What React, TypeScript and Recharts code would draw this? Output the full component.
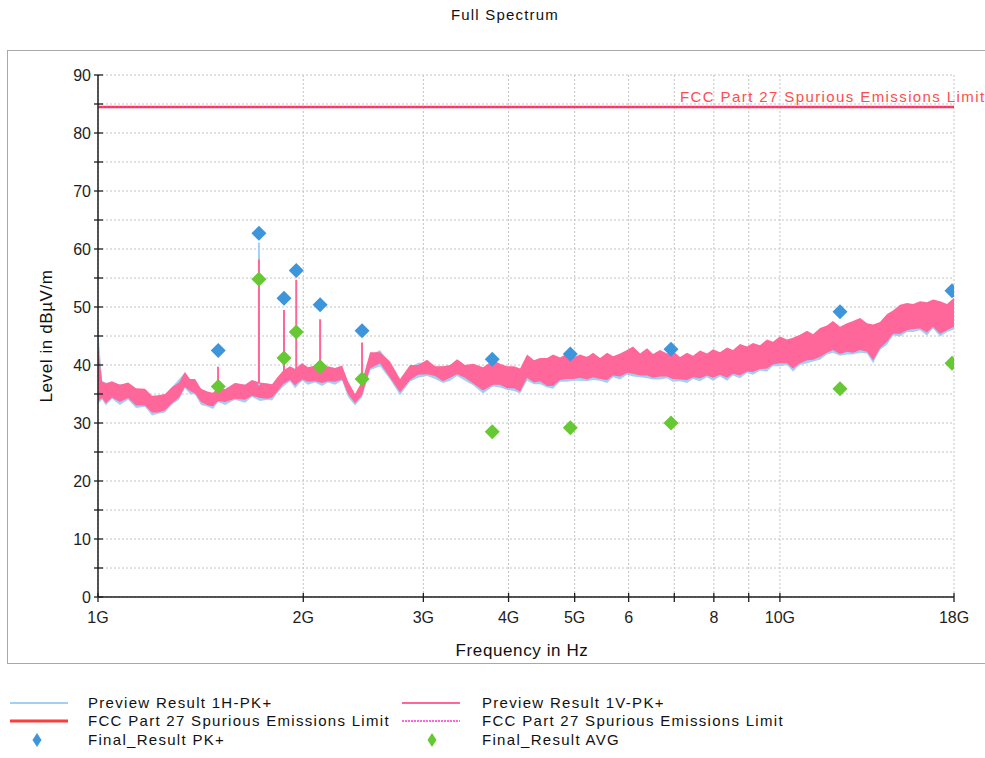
import React from "react";
import { ComposedChart, Area, Line, Scatter, XAxis, YAxis, CartesianGrid } from "recharts";

// sweep frequencies, GHz (log spaced)
const FREQ_GHZ = [
  1.0, 1.014, 1.027, 1.048, 1.077, 1.107, 1.137, 1.172, 1.2, 1.225,
  1.254, 1.284, 1.315, 1.341, 1.364, 1.388, 1.416, 1.45, 1.475, 1.5,
  1.536, 1.588, 1.643, 1.682, 1.728, 1.776, 1.8, 1.83, 1.868, 1.912,
  1.945, 1.992, 2.032, 2.081, 2.131, 2.174, 2.226, 2.28, 2.326, 2.382,
  2.439, 2.506, 2.592, 2.681, 2.773, 2.868, 2.947, 3.038, 3.121, 3.207,
  3.283, 3.362, 3.454, 3.549, 3.67, 3.797, 3.887, 3.98, 4.076, 4.159,
  4.258, 4.36, 4.449, 4.556, 4.649, 4.76, 4.874, 4.974, 5.093, 5.214,
  5.321, 5.448, 5.579, 5.693, 5.829, 5.968, 6.09, 6.236, 6.385, 6.516,
  6.671, 6.831, 6.97, 7.137, 7.308, 7.457, 7.635, 7.818, 7.978, 8.169,
  8.364, 8.535, 8.739, 8.948, 9.131, 9.349, 9.573, 9.768, 10.0, 10.24,
  10.45, 10.7, 10.96, 11.18, 11.45, 11.72, 11.96, 12.25, 12.54, 12.8,
  13.11, 13.42, 13.7, 14.02, 14.36, 14.65, 15.0, 15.36, 15.68, 16.05,
  16.43, 16.77, 17.17, 17.58, 18.0,
];

// Preview Result 1V-PK+ (pink), lower / upper edge of the noise band, dBuV/m
const V_LO = [
  33.8, 34.3, 33.4, 34.4, 33.6, 34.3, 33.0, 33.0, 31.8, 31.8,
  32.2, 33.4, 34.4, 36.2, 35.5, 35.1, 33.6, 33.0, 32.9, 33.8,
  33.6, 34.2, 34.0, 34.7, 34.3, 34.2, 34.4, 35.3, 36.7, 37.4,
  36.5, 37.5, 37.1, 37.2, 36.9, 37.2, 37.1, 37.5, 35.0, 33.4,
  34.8, 39.4, 40.3, 37.8, 35.3, 37.4, 38.3, 38.4, 38.1, 37.2,
  37.8, 38.4, 37.8, 36.8, 35.6, 36.6, 36.6, 36.0, 36.0, 35.4,
  37.8, 37.0, 37.2, 36.4, 36.4, 37.4, 37.6, 37.6, 37.8, 37.5,
  37.9, 37.6, 37.4, 38.2, 38.0, 38.6, 38.5, 38.2, 38.2, 37.8,
  38.0, 38.0, 37.6, 37.5, 37.4, 37.9, 37.7, 38.2, 37.8, 38.3,
  37.8, 38.5, 38.2, 38.9, 38.8, 39.3, 39.4, 40.1, 40.3, 40.3,
  39.4, 40.3, 40.8, 40.9, 41.4, 42.1, 42.6, 41.9, 42.3, 42.1,
  42.6, 42.3, 40.8, 42.9, 44.0, 45.4, 45.4, 46.0, 46.2, 46.3,
  45.6, 46.6, 45.4, 46.0, 46.6,
];
const V_HI = [
  43.0, 37.2, 36.8, 37.2, 36.6, 37.0, 36.0, 35.9, 34.7, 34.8,
  35.0, 36.2, 37.0, 38.8, 37.6, 37.6, 35.9, 35.4, 35.2, 36.2,
  35.8, 36.9, 36.6, 37.4, 37.0, 36.8, 36.7, 37.8, 39.0, 39.8,
  39.3, 40.3, 39.6, 39.9, 39.3, 39.8, 39.5, 39.9, 37.2, 35.0,
  37.2, 42.2, 42.2, 40.6, 37.6, 40.0, 40.0, 40.9, 39.8, 39.8,
  40.0, 41.0, 40.0, 40.2, 39.6, 40.8, 40.2, 39.8, 39.8, 39.4,
  41.8, 40.8, 41.2, 41.2, 41.8, 41.3, 42.0, 41.3, 41.8, 41.4,
  42.1, 41.2, 42.1, 41.5, 42.0, 42.6, 43.2, 42.0, 42.9, 41.9,
  42.6, 42.0, 42.4, 41.4, 42.1, 41.6, 42.5, 42.0, 42.7, 42.2,
  43.0, 42.6, 43.6, 43.2, 43.8, 43.4, 44.4, 44.0, 44.9, 44.4,
  44.7, 45.2, 45.9, 45.3, 46.4, 46.8, 47.6, 46.6, 47.2, 47.6,
  48.1, 47.2, 47.0, 47.4, 48.8, 49.4, 50.4, 50.7, 50.5, 51.0,
  50.8, 51.3, 51.0, 50.5, 51.6,
];

// Preview Result 1H-PK+ (light blue)
const H_LO = [
  33.3, 34.0, 33.0, 34.2, 33.1, 34.0, 32.6, 32.8, 31.3, 31.6,
  31.8, 33.2, 34.0, 36.0, 35.0, 34.9, 33.1, 32.8, 32.4, 33.6,
  33.1, 34.0, 33.5, 34.5, 33.8, 34.0, 33.9, 35.1, 36.2, 37.2,
  36.0, 37.3, 36.6, 37.0, 36.4, 37.0, 36.6, 37.3, 34.5, 33.0,
  34.4, 39.1, 39.8, 37.5, 34.8, 37.1, 37.8, 38.1, 37.6, 36.9,
  37.3, 38.1, 37.3, 36.5, 35.1, 36.3, 36.1, 35.7, 35.5, 35.1,
  37.3, 36.7, 36.7, 36.1, 35.9, 37.1, 37.1, 37.3, 37.3, 37.2,
  37.4, 37.3, 36.9, 37.9, 37.5, 38.3, 38.0, 37.9, 37.7, 37.5,
  37.5, 37.7, 37.1, 37.2, 36.9, 37.6, 37.2, 37.9, 37.3, 38.0,
  37.3, 38.2, 37.7, 38.6, 38.3, 39.0, 38.9, 39.8, 39.8, 40.0,
  38.9, 40.0, 40.3, 40.6, 40.9, 41.8, 42.1, 41.6, 41.8, 41.8,
  42.1, 42.0, 40.3, 42.6, 43.5, 45.1, 44.9, 45.7, 45.7, 46.0,
  45.1, 46.3, 44.9, 45.7, 46.1,
];
const H_HI = [
  46.5, 37.2, 37.0, 36.9, 36.7, 36.6, 35.8, 35.3, 34.6, 34.1,
  34.8, 36.2, 37.6, 38.7, 37.6, 37.0, 35.9, 34.7, 35.2, 35.5,
  35.8, 36.9, 36.6, 37.3, 36.9, 36.1, 36.7, 37.1, 39.0, 39.7,
  39.3, 40.3, 39.5, 39.8, 39.2, 39.6, 39.5, 39.3, 36.8, 34.7,
  36.9, 41.7, 42.6, 40.1, 37.1, 39.5, 40.4, 40.4, 39.7, 39.8,
  39.9, 40.9, 39.9, 39.5, 38.9, 40.6, 39.5, 39.1, 38.8, 38.7,
  41.1, 40.8, 40.3, 40.7, 41.6, 40.9, 41.9, 40.7, 41.1, 41.5,
  41.4, 40.7, 41.4, 41.0, 41.4, 42.1, 42.6, 41.5, 42.3, 41.3,
  42.0, 41.5, 41.7, 40.9, 41.4, 41.1, 41.7, 41.5, 42.0, 41.7,
  42.3, 42.1, 42.9, 42.7, 43.1, 42.9, 43.7, 43.5, 44.3, 43.9,
  44.0, 44.7, 45.2, 44.7, 45.7, 46.3, 46.9, 46.1, 46.6, 47.1,
  47.5, 46.7, 46.3, 46.9, 48.1, 48.9, 49.7, 50.3, 49.9, 50.6,
  50.1, 50.9, 50.3, 50.0, 51.1,
];

// narrow emission spikes in the preview sweeps
const V_SPIKE_FREQ = [1.5, 1.722, 1.874, 1.953, 2.117, 2.439];
const V_SPIKE_BASE = [35.8, 36.8, 37.5, 38.0, 38.5, 36.0];
const V_SPIKE_TOP = [39.7, 58.2, 49.5, 54.7, 47.9, 43.9];
const H_SPIKE_FREQ = [1.722];
const H_SPIKE_BASE = [36.5];
const H_SPIKE_TOP = [61.1];

// final measurements
const FINAL_FREQ = [1.501, 1.722, 1.874, 1.953, 2.117, 2.439, 3.786, 4.927, 6.922, 12.25, 17.88];
const FINAL_PK = [42.5, 62.7, 51.5, 56.3, 50.4, 45.9, 41.0, 41.9, 42.7, 49.2, 52.8];
const FINAL_AVG = [36.3, 54.8, 41.2, 45.7, 39.7, 37.6, 28.5, 29.2, 30.0, 35.9, 40.3];

const LIMIT_DB = 84.5;
const LIMIT_FREQ = [1, 18];

const X_TICKS = [1, 2, 3, 4, 5, 6, 7, 8, 9, 10, 18];
const X_TICK_LABELS: Record<number, string> = { 1: "1G", 2: "2G", 3: "3G", 4: "4G", 5: "5G", 6: "6", 8: "8", 10: "10G", 18: "18G" };
const Y_TICKS = [0, 5, 10, 15, 20, 25, 30, 35, 40, 45, 50, 55, 60, 65, 70, 75, 80, 85, 90];

const FONT = "'Liberation Sans', Arial, sans-serif";
const PINK = "#ff6699";
const LIGHT_BLUE = "#a3cff7";
const PK_BLUE = "#3d95dc";
const AVG_GREEN = "#66c833";
const LIMIT_RED = "#ff3b3b";
const LIMIT_MAGENTA = "#ff33cc";
const AXIS = "#1e1e1e";

const bandV = FREQ_GHZ.map((f, i) => ({ f, v: [V_LO[i], V_HI[i]] }));
const bandH = FREQ_GHZ.map((f, i) => ({ f, v: [H_LO[i], H_HI[i]] }));

function spikeRows(freq: number[], base: number[], top: number[]) {
  const rows: { f: number; s: number | null }[] = [];
  freq.forEach((f, i) => {
    rows.push({ f, s: base[i] }, { f, s: top[i] }, { f, s: null });
  });
  return rows;
}
const spikesV = spikeRows(V_SPIKE_FREQ, V_SPIKE_BASE, V_SPIKE_TOP);
const spikesH = spikeRows(H_SPIKE_FREQ, H_SPIKE_BASE, H_SPIKE_TOP);

const pkData = FINAL_FREQ.map((f, i) => ({ f, v: FINAL_PK[i] }));
const avgData = FINAL_FREQ.map((f, i) => ({ f, v: FINAL_AVG[i] }));
const limitData = LIMIT_FREQ.map((f) => ({ f, v: LIMIT_DB }));

const diamond = (color: string) => (props: any) => {
  const { cx, cy } = props;
  if (cx == null || cy == null) return null;
  return <path d={`M${cx},${cy - 7.5}L${cx + 7.5},${cy}L${cx},${cy + 7.5}L${cx - 7.5},${cy}Z`} fill={color} />;
};

function YTick(props: any) {
  const { x, y, payload } = props;
  const v = payload.value as number;
  return (
    <g>
      <line x1={x - 4} x2={x + 5} y1={y} y2={y} stroke={AXIS} strokeWidth={1.3} />
      {v % 10 === 0 && (
        <text x={x - 7} y={y} dy={6} textAnchor="end" fontSize={16} fill={AXIS} fontFamily={FONT}>
          {v}
        </text>
      )}
    </g>
  );
}

function XTick(props: any) {
  const { x, y, payload } = props;
  const label = X_TICK_LABELS[payload.value];
  return (
    <g>
      <line x1={x} x2={x} y1={y - 4} y2={y + 5} stroke={AXIS} strokeWidth={1.3} />
      {label && (
        <text x={x} y={y + 26} textAnchor="middle" fontSize={16} fill={AXIS} fontFamily={FONT}>
          {label}
        </text>
      )}
    </g>
  );
}

function LegendRows() {
  const txt = { fontSize: 15, fill: "#111", fontFamily: FONT, letterSpacing: 1.3 } as const;
  return (
    <svg width={985} height={80} style={{ position: "absolute", left: 0, top: 680 }}>
      <line x1={10} x2={68} y1={23} y2={23} stroke={LIGHT_BLUE} strokeWidth={2} />
      <text x={88} y={28} {...txt}>Preview Result 1H-PK+</text>
      <line x1={402} x2={460} y1={23} y2={23} stroke={PINK} strokeWidth={2} />
      <text x={482} y={28} {...txt}>Preview Result 1V-PK+</text>

      <line x1={10} x2={68} y1={41} y2={41} stroke={LIMIT_RED} strokeWidth={3} />
      <text x={88} y={46} {...txt}>FCC Part 27 Spurious Emissions Limit</text>
      <line x1={402} x2={460} y1={41} y2={41} stroke={LIMIT_MAGENTA} strokeWidth={1.5} strokeDasharray="2 1" />
      <text x={482} y={46} {...txt}>FCC Part 27 Spurious Emissions Limit</text>

      <path d="M37,53L41.5,60L37,67L32.5,60Z" fill={PK_BLUE} />
      <text x={88} y={65} {...txt}>Final_Result PK+</text>
      <path d="M432,53L436.5,60L432,67L427.5,60Z" fill={AVG_GREEN} />
      <text x={482} y={65} {...txt}>Final_Result AVG</text>
    </svg>
  );
}

export default function App() {
  return (
    <div style={{ position: "absolute", left: 0, top: 0, width: 985, height: 758, overflow: "hidden", background: "#fff", fontFamily: FONT }}>
      <div style={{ position: "absolute", left: 405, top: 6, width: 200, textAlign: "center", fontSize: 15, letterSpacing: 1.2, color: "#111" }}>
        Full Spectrum
      </div>
      <div style={{ position: "absolute", left: 7, top: 50, width: 978, height: 612, border: "1px solid #a8a8a8", borderRight: "none" }} />

      <ComposedChart
        width={985}
        height={670}
        style={{ position: "absolute", left: 0, top: 0 }}
        margin={{ top: 75, right: 31, bottom: 43, left: 48 }}
      >
        <CartesianGrid stroke="#c4c4c4" strokeDasharray="2 2" />
        <XAxis
          dataKey="f"
          type="number"
          scale="log"
          domain={[1, 18]}
          allowDataOverflow
          ticks={X_TICKS}
          interval={0}
          height={30}
          tickSize={0}
          tickMargin={0}
          tickLine={false}
          tick={<XTick />}
          axisLine={{ stroke: AXIS, strokeWidth: 1.5 }}
        />
        <YAxis
          type="number"
          domain={[0, 90]}
          ticks={Y_TICKS}
          interval={0}
          width={50}
          tickSize={0}
          tickMargin={0}
          tickLine={false}
          tick={<YTick />}
          axisLine={{ stroke: AXIS, strokeWidth: 1.5 }}
        />
        <Area data={bandH} dataKey="v" type="linear" stroke="none" fill={LIGHT_BLUE} fillOpacity={1} isAnimationActive={false} />
        <Line data={spikesH} dataKey="s" type="linear" stroke={LIGHT_BLUE} strokeWidth={2} dot={false} isAnimationActive={false} />
        <Area data={bandV} dataKey="v" type="linear" stroke="none" fill={PINK} fillOpacity={1} isAnimationActive={false} />
        <Line data={spikesV} dataKey="s" type="linear" stroke={PINK} strokeWidth={2} dot={false} isAnimationActive={false} />
        <Line data={limitData} dataKey="v" type="linear" stroke={LIMIT_RED} strokeWidth={2.5} dot={false} isAnimationActive={false} />
        <Line data={limitData} dataKey="v" type="linear" stroke={LIMIT_MAGENTA} strokeWidth={1.2} strokeDasharray="2 2" dot={false} isAnimationActive={false} />
        <Scatter data={pkData} dataKey="v" shape={diamond(PK_BLUE)} isAnimationActive={false} />
        <Scatter data={avgData} dataKey="v" shape={diamond(AVG_GREEN)} isAnimationActive={false} />
      </ComposedChart>

      <div style={{ position: "absolute", left: 680, top: 89, fontSize: 15, lineHeight: "15px", letterSpacing: 1.4, color: "#ff4d4d", whiteSpace: "nowrap" }}>
        FCC Part 27 Spurious Emissions Limit
      </div>
      <div
        style={{
          position: "absolute",
          left: 47,
          top: 336,
          transform: "translate(-50%, -50%) rotate(-90deg)",
          fontSize: 17,
          letterSpacing: 0.6,
          color: "#111",
          whiteSpace: "nowrap",
        }}
      >
        Level in dBµV/m
      </div>
      <div style={{ position: "absolute", left: 422, top: 641, width: 200, textAlign: "center", fontSize: 17, letterSpacing: 0.6, color: "#111" }}>
        Frequency in Hz
      </div>

      <LegendRows />
    </div>
  );
}
